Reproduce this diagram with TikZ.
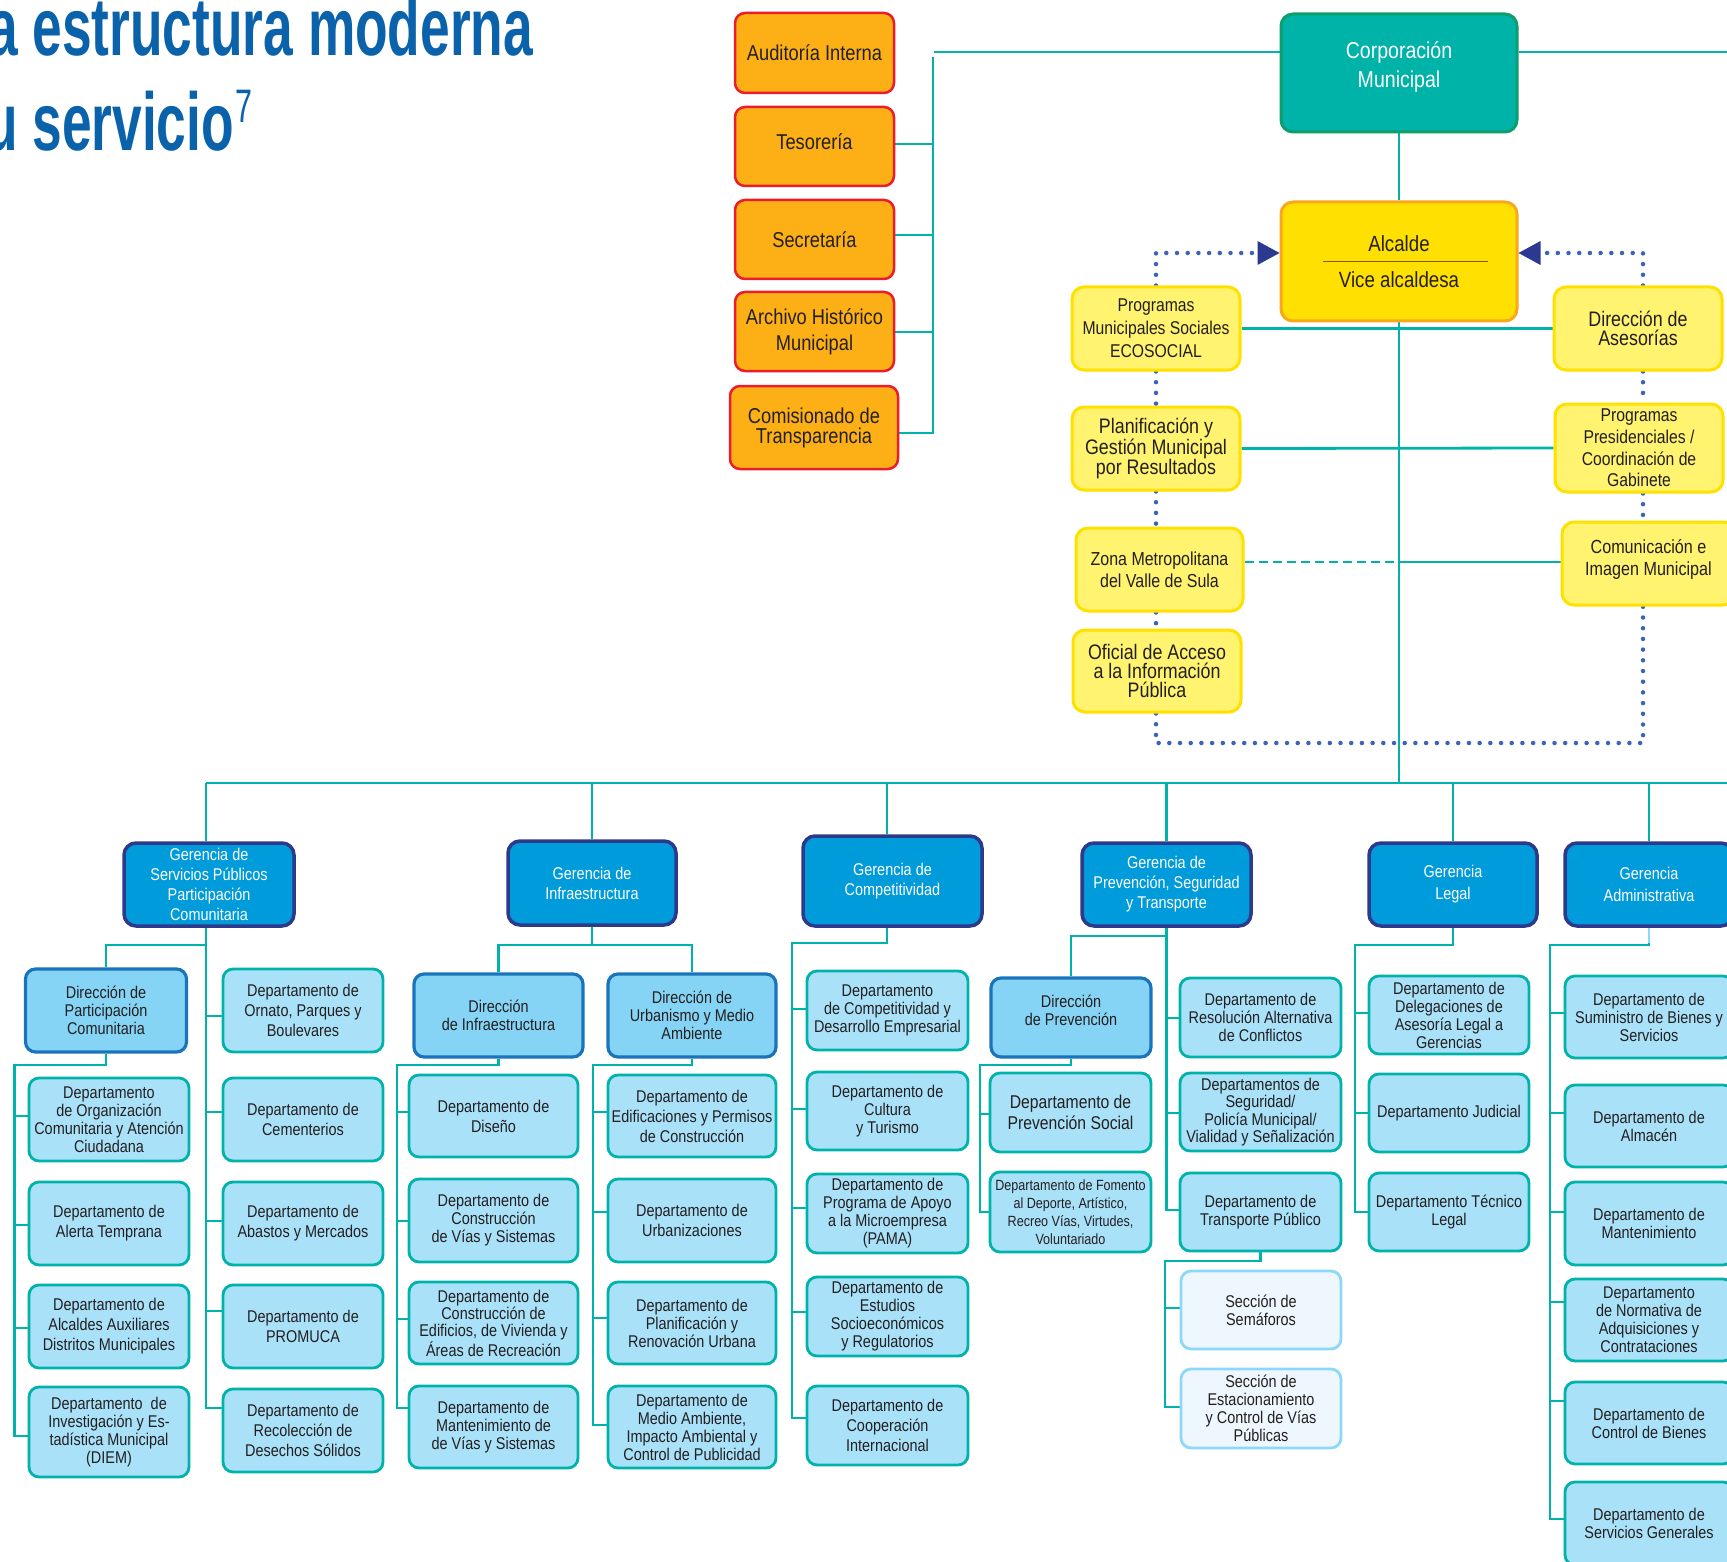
\documentclass[tikz,border=0pt]{standalone}
\usepackage{fontspec}
\setmainfont[FakeStretch=0.85]{Liberation Sans}
\newfontfamily\titlefont[FakeStretch=0.65]{Liberation Sans}
\usetikzlibrary{arrows.meta}
\definecolor{teal1}{HTML}{00B3AA}
\definecolor{deptfill}{HTML}{A9E1F9}
\definecolor{dirfill}{HTML}{86D4F5}
\definecolor{dirborder}{HTML}{1A74BB}
\definecolor{gerfill}{HTML}{009BDB}
\definecolor{gerborder}{HTML}{2D3A8C}
\definecolor{sectfill}{HTML}{EEF7FE}
\definecolor{sectborder}{HTML}{8DD8F8}
\definecolor{orfill}{HTML}{FDB016}
\definecolor{orborder}{HTML}{EC1C2D}
\definecolor{ylfill}{HTML}{FFF36F}
\definecolor{ylborder}{HTML}{FFE100}
\definecolor{alfill}{HTML}{FFE000}
\definecolor{alborder}{HTML}{F9A81B}
\definecolor{corpfill}{HTML}{00B3A9}
\definecolor{corpborder}{HTML}{0E9D6C}
\definecolor{dotblue}{HTML}{3A63BD}
\definecolor{navy}{HTML}{2B3A90}
\definecolor{titleblue}{HTML}{0A62AA}
\definecolor{txt}{HTML}{231F20}
\definecolor{rulecol}{HTML}{7A5E00}
\pgfdeclarelayer{bg}
\pgfsetlayers{bg,main}
\newcommand\brn[3]{\draw[conn] (#1 |- 0,#3) -- (#2.west |- 0,#3);}
\tikzset{
  bx/.style={rounded corners=10pt, align=center, inner sep=0pt, text=txt},
  wh/.style 2 args={minimum width=#1pt, minimum height=#2pt},
  dept/.style={bx, draw=teal1, fill=deptfill, line width=2.8pt, font=\fontsize{17}{20}\selectfont},
  tight/.style={font=\fontsize{17}{18}\selectfont},
  dirbox/.style={bx, draw=dirborder, fill=dirfill, line width=3.2pt, font=\fontsize{17}{18}\selectfont},
  sect/.style={bx, draw=sectborder, fill=sectfill, line width=2.8pt, font=\fontsize{17}{18}\selectfont},
  ger/.style={bx, rounded corners=12pt, draw=gerborder, fill=gerfill, line width=3.5pt, text=white, font=\fontsize{17}{20}\selectfont},
  orng/.style={bx, draw=orborder, fill=orfill, line width=2.5pt, font=\fontsize{21.5}{24}\selectfont},
  ylw/.style={bx, rounded corners=12pt, draw=ylborder, fill=ylfill, line width=3pt},
  conn/.style={draw=teal1, line width=2.8pt},
  dotln/.style={draw=dotblue, line width=4.5pt, line cap=round, dash pattern=on 0pt off 10.7pt},
}
\begin{document}
\begin{tikzpicture}[x=1pt,y=-1pt]
\path[use as bounding box] (0,0) rectangle (1727,1562);

% ---------- title ----------
\node[anchor=base west, inner sep=0pt, text=titleblue, font=\titlefont\bfseries\fontsize{82}{82}\selectfont] (t1) at (-12,56) {a estructura moderna};
\node[anchor=base west, inner sep=0pt, text=titleblue, font=\titlefont\bfseries\fontsize{82}{82}\selectfont] (t2) at (-15,151) {u servicio};
\node[anchor=base west, inner sep=0pt, text=titleblue, font=\titlefont\fontsize{47}{47}\selectfont] (t3) at (t2.base east) {\hspace{1pt}\raisebox{28pt}{7}};

% ---------- top ----------
\node[orng, wh={159}{80}] (aud) at (814.5,53) {Auditoría Interna};
\node[orng, wh={159}{79}] (tes) at (814.5,146.5) {\raisebox{5pt}[\height][\depth]{Tesorería}};
\node[orng, wh={159}{79}] (sec) at (814.5,239.5) {Secretaría};
\node[orng, wh={159}{79}] (arc) at (814.5,331.5) {Archivo Histórico\\[2pt]Municipal};
\node[orng, wh={168}{83}, font=\fontsize{21.5}{20}\selectfont] (com) at (814,427.5) {Comisionado de\\Transparencia};

\node[bx, rounded corners=12pt, draw=corpborder, fill=corpfill, line width=3pt, text=white, font=\fontsize{23}{29}\selectfont, wh={236}{118}] (corp) at (1399,73)
  {\raisebox{6pt}[\height][\depth]{\begin{tabular}{@{}c@{}}Corporación\\Municipal\end{tabular}}};
\node[bx, rounded corners=12pt, draw=alborder, fill=alfill, line width=3pt, font=\fontsize{22}{24}\selectfont, wh={236}{119}] (alc) at (1399,261.5) {Alcalde\\[12pt]Vice alcaldesa};
\draw[rulecol, line width=1.6pt] ([xshift=-76pt]alc.center) -- ([xshift=89pt]alc.center);

\node[ylw, wh={168}{83}, font=\fontsize{18.5}{23}\selectfont] (eco) at (1156,328.5) {Programas\\Municipales Sociales\\ECOSOCIAL};
\node[ylw, wh={168}{83}, font=\fontsize{21}{19.5}\selectfont] (plan) at (1156,448.5) {Planificación y\\Gestión Municipal\\por Resultados};
\node[ylw, wh={167}{83}, font=\fontsize{18.8}{22}\selectfont] (zona) at (1159.5,569.5) {Zona Metropolitana\\del Valle de Sula};
\node[ylw, wh={168}{82}, font=\fontsize{21}{19}\selectfont] (ofi) at (1157,671) {Oficial de Acceso\\a la Información\\Pública};
\node[ylw, wh={168}{83}, font=\fontsize{21}{19.5}\selectfont] (ase) at (1638,328.5) {Dirección de\\Asesorías};
\node[ylw, wh={168}{88}, font=\fontsize{18.5}{21.7}\selectfont] (pres) at (1639,448) {Programas\\Presidenciales /\\Coordinación de\\Gabinete};
\node[ylw, wh={173}{83}, font=\fontsize{19}{22}\selectfont] (comu) at (1648.5,563.5) {\raisebox{3pt}[\height][\depth]{\begin{tabular}{@{}c@{}}Comunicación e\\Imagen Municipal\end{tabular}}};

\coordinate (alL) at ([yshift=8.5pt]alc.west);
\coordinate (alR) at ([yshift=8.5pt]alc.east);
\fill[navy] (alL) -- ++(-22,-12) -- ++(0,24) -- cycle;
\fill[navy] (alR) -- ++(22,-12) -- ++(0,24) -- cycle;

% ---------- gerencias ----------
\node[ger, wh={170}{83}] (gsp) at (209,884.5) {Gerencia de\\Servicios Públicos\\Participación\\Comunitaria};
\node[ger, wh={168}{84}] (ginf) at (592,883) {Gerencia de\\Infraestructura};
\node[ger, wh={179}{90}] (gcom) at (892.5,881) {Gerencia de\\Competitividad};
\node[ger, wh={169}{83}] (gpre) at (1166.5,884.5) {Gerencia de\\Prevención, Seguridad\\y Transporte};
\node[ger, wh={168}{83}, font=\fontsize{17}{22}\selectfont] (gleg) at (1453,884.5) {Gerencia\\Legal};
\node[ger, wh={168}{83}, font=\fontsize{17}{22}\selectfont] (gadm) at (1649,884.5) {Gerencia\\Administrativa};

% ---------- Servicios Publicos ----------
\node[dirbox, wh={161}{83}] (dpc) at (106,1010.5) {Dirección de\\Participación\\Comunitaria};
\node[dept, tight, wh={160}{83}] (d1) at (109,1119.5) {Departamento\\de Organización\\Comunitaria y Atención\\Ciudadana};
\node[dept, wh={160}{83}] (d2) at (109,1223.5) {Departamento de\\Alerta Temprana};
\node[dept, wh={160}{83}] (d3) at (109,1326.5) {Departamento de\\Alcaldes Auxiliares\\Distritos Municipales};
\node[dept, tight, wh={160}{90}] (d4) at (109,1432) {Departamento\ \ de\\Investigación y Es-\\tadística Municipal\\(DIEM)};
\node[dept, wh={160}{83}] (r1) at (303,1010.5) {Departamento de\\Ornato, Parques y\\Boulevares};
\node[dept, wh={160}{83}] (r2) at (303,1119.5) {Departamento de\\Cementerios};
\node[dept, wh={160}{83}] (r3) at (303,1223.5) {Departamento de\\Abastos y Mercados};
\node[dept, wh={160}{83}] (r4) at (303,1326.5) {Departamento de\\PROMUCA};
\node[dept, wh={160}{83}] (r5) at (303,1430.5) {Departamento de\\Recolección de\\Desechos Sólidos};

% ---------- Infraestructura ----------
\node[dirbox, wh={169}{83}] (dinf) at (498.5,1015.5) {Dirección\\de Infraestructura};
\node[dirbox, wh={168}{83}] (durb) at (692,1015.5) {Dirección de\\Urbanismo y Medio\\Ambiente};
\node[dept, wh={169}{82}] (i1) at (493.5,1116) {Departamento de\\Diseño};
\node[dept, tight, wh={169}{83}] (i2) at (493.5,1220.5) {Departamento de\\Construcción\\de Vías y Sistemas};
\node[dept, wh={169}{82}, font=\fontsize{17}{17.3}\selectfont] (i3) at (493.5,1323) {Departamento de\\Construcción de\\Edificios, de Vivienda y\\Áreas de Recreación};
\node[dept, tight, wh={169}{82}] (i4) at (493.5,1427) {Departamento de\\Mantenimiento de\\de Vías y Sistemas};
\node[dept, wh={168}{82}] (u1) at (692,1116) {Departamento de\\Edificaciones y Permisos\\de Construcción};
\node[dept, wh={168}{83}] (u2) at (692,1220.5) {Departamento de\\Urbanizaciones};
\node[dept, tight, wh={168}{82}] (u3) at (692,1323) {Departamento de\\Planificación y\\Renovación Urbana};
\node[dept, tight, wh={168}{82}] (u4) at (692,1427) {Departamento de\\Medio Ambiente,\\Impacto Ambiental y\\Control de Publicidad};

% ---------- Competitividad ----------
\node[dept, tight, wh={161}{79}] (c1) at (887.5,1010.5) {Departamento\\de Competitividad y\\Desarrollo Empresarial};
\node[dept, tight, wh={161}{78}] (c2) at (887.5,1111) {Departamento de\\Cultura\\y Turismo};
\node[dept, tight, wh={161}{79}] (c3) at (887.5,1213.5) {Departamento de\\Programa de Apoyo\\a la Microempresa\\(PAMA)};
\node[dept, tight, wh={161}{79}] (c4) at (887.5,1316.5) {Departamento de\\Estudios\\Socioeconómicos\\y Regulatorios};
\node[dept, wh={161}{79}] (c5) at (887.5,1425.5) {Departamento de\\Cooperación\\Internacional};

% ---------- Prevencion ----------
\node[dirbox, wh={160}{79}] (dprev) at (1071,1017.5) {\raisebox{5pt}[\height][\depth]{\begin{tabular}{@{}c@{}}Dirección\\de Prevención\end{tabular}}};
\node[dept, wh={161}{79}, font=\fontsize{18.5}{21.5}\selectfont] (p1) at (1070.5,1112.5) {Departamento de\\Prevención Social};
\node[dept, wh={161}{80}, font=\fontsize{14.8}{18}\selectfont] (p2) at (1070.5,1212) {Departamento de Fomento\\al Deporte, Artístico,\\Recreo Vías, Virtudes,\\Voluntariado};
\node[dept, tight, wh={161}{79}] (q1) at (1260.5,1017.5) {Departamento de\\Resolución Alternativa\\de Conflictos};
\node[dept, wh={161}{78}, font=\fontsize{17}{17.3}\selectfont] (q2) at (1260.5,1112) {Departamentos de\\Seguridad/\\Policía Municipal/\\Vialidad y Señalización};
\node[dept, tight, wh={161}{78}] (q3) at (1260.5,1212) {Departamento de\\Transporte Público};
\node[sect, wh={160}{78}] (s1) at (1261,1310) {Sección de\\Semáforos};
\node[sect, wh={160}{79}] (s2) at (1261,1408.5) {Sección de\\Estacionamiento\\y Control de Vías\\Públicas};

% ---------- Legal ----------
\node[dept, tight, wh={160}{78}] (l1) at (1449,1015) {Departamento de\\Delegaciones de\\Asesoría Legal a\\Gerencias};
\node[dept, wh={160}{78}] (l2) at (1449,1113) {Departamento Judicial};
\node[dept, tight, wh={160}{78}] (l3) at (1449,1212) {Departamento Técnico\\Legal};

% ---------- Administrativa ----------
\node[dept, tight, wh={168}{82}] (a1) at (1649,1017) {Departamento de\\Suministro de Bienes y\\Servicios};
\node[dept, tight, wh={168}{82}] (a2) at (1649,1126) {Departamento de\\Almacén};
\node[dept, tight, wh={168}{83}] (a3) at (1649,1223.5) {Departamento de\\Mantenimiento};
\node[dept, tight, wh={168}{82}] (a4) at (1649,1320) {Departamento\\de Normativa de\\Adquisiciones y\\Contrataciones};
\node[dept, tight, wh={168}{82}] (a5) at (1649,1423) {Departamento de\\Control de Bienes};
\node[dept, tight, wh={168}{83}] (a6) at (1649,1523.5) {Departamento de\\Servicios Generales};

% ---------- connectors ----------
\begin{pgfonlayer}{bg}
\fill[white] (0,0) rectangle (1727,1562);
% orange column
\coordinate (otop) at (934,52);
\coordinate (otr) at (933,57);
\draw[conn] ([yshift=21pt]corp.west) -- (otop);
\draw[conn] ([yshift=21pt]corp.east) -- ++(260,0);
\draw[conn] (otr) -- (otr |- 0,433) -- (com.east |- 0,433);
\foreach \n/\y in {tes/144, sec/235, arc/332} \draw[conn] (otr |- 0,\y) -- (\n.east |- 0,\y);
% center spine
\coordinate (bus) at (1399,783);
\draw[conn] (corp.south) -- (alc.north);
\draw[conn] (alc.south) -- (bus);
\draw[conn] (eco.east) -- (ase.west);
\draw[conn] (plan.east) -- (pres.west);
\draw[conn, dash pattern=on 9pt off 5pt] (zona.east |- 0,562) -- (alc.south |- 0,562);
\draw[conn] (alc.south |- 0,562) -- (comu.west |- 0,562);
% dotted links
\coordinate (ld) at (1156,0);
\coordinate (rd) at (1643,0);
\draw[dotln] (ld |- eco.north) |- ([xshift=-22pt]alL);
\draw[dotln] (rd |- ase.north) |- ([xshift=22pt]alR);
\draw[dotln] (ld |- eco.south) -- (ld |- plan.north);
\draw[dotln] (ld |- plan.south) -- (ld |- zona.north);
\draw[dotln] (ld |- zona.south) -- (ld |- ofi.north);
\draw[dotln] (ld |- ofi.south) -- (ld |- 0,743) -- (rd |- 0,743) -- (rd |- comu.south);
\draw[dotln] (rd |- ase.south) -- (rd |- pres.north);
\draw[dotln] (rd |- pres.south) -- (rd |- comu.north);
% main bus
\coordinate (xsp) at (206,0);
\coordinate (xcm) at (887,0);
\draw[conn] (xsp |- bus) -- (1740,783);
\draw[conn] (xsp |- bus) -- (xsp |- gsp.north);
\draw[conn] (xcm |- bus) -- (xcm |- gcom.north);
\foreach \g in {ginf,gpre,gleg,gadm} \draw[conn] (\g.north |- bus) -- (\g.north);
% servicios publicos
\draw[conn] (xsp |- gsp.south) -- (xsp |- 0,1408) -- (r5.west |- 0,1408);
\draw[conn] (xsp |- 0,945) -| (dpc.north);
\brn{xsp}{r1}{1016}
\brn{xsp}{r2}{1112}
\brn{xsp}{r3}{1221}
\brn{xsp}{r4}{1311}
\coordinate (tdp) at (14.5,1065);
\draw[conn] (dpc.south) |- (tdp) -- (tdp |- 0,1436) -- (d4.west |- 0,1436);
\brn{tdp}{d1}{1116}
\brn{tdp}{d2}{1225}
\brn{tdp}{d3}{1328}
% infraestructura
\draw[conn] (ginf.south) -- (ginf.south |- 0,945);
\draw[conn] (dinf.north) -- (dinf.north |- 0,945) -- (durb.north |- 0,945) -- (durb.north);
\coordinate (tinf) at (397,1065);
\draw[conn] (dinf.south) |- (tinf) -- (tinf |- 0,1408) -- (i4.west |- 0,1408);
\brn{tinf}{i1}{1112}
\brn{tinf}{i2}{1221}
\brn{tinf}{i3}{1319}
\coordinate (turb) at (593,1065);
\draw[conn] (durb.south) |- (turb) -- (turb |- 0,1425) -- (u4.west |- 0,1425);
\brn{turb}{u1}{1112}
\brn{turb}{u2}{1212}
\brn{turb}{u3}{1318}
% competitividad
\coordinate (tcom) at (792,943);
\draw[conn] (xcm |- gcom.south) |- (tcom) -- (tcom |- 0,1418) -- (c5.west |- 0,1418);
\brn{tcom}{c1}{1009}
\brn{tcom}{c2}{1109}
\brn{tcom}{c3}{1208}
\brn{tcom}{c4}{1312}
% prevencion
\draw[conn] (gpre.south) -- (gpre.south |- 0,1210) -- (q3.west |- 0,1210);
\draw[conn] (gpre.south |- 0,936) -| (dprev.north);
\coordinate (tprev) at (980,1065);
\draw[conn] (dprev.south) |- (tprev) -- (tprev |- 0,1212) -- (p2.west |- 0,1212);
\brn{tprev}{p1}{1114}
\brn{gpre.south}{q1}{1018}
\brn{gpre.south}{q2}{1113}
\coordinate (ttr) at (1165,1261);
\draw[conn] (q3.south) |- (ttr) -- (ttr |- 0,1407) -- (s2.west |- 0,1407);
\brn{ttr}{s1}{1308}
% legal
\coordinate (tleg) at (1355,945);
\draw[conn] (gleg.south) |- (tleg) -- (tleg |- 0,1212) -- (l3.west |- 0,1212);
\brn{tleg}{l1}{1013}
\brn{tleg}{l2}{1113}
% administrativa
\coordinate (tadm) at (1550,945);
\draw[conn] (gadm.south) |- (tadm) -- (tadm |- 0,1519) -- (a6.west |- 0,1519);
\draw[conn, draw=sectborder] (gadm.south) -- (gadm.south |- 0,943);
\brn{tadm}{a1}{1013}
\brn{tadm}{a2}{1113}
\brn{tadm}{a3}{1212}
\brn{tadm}{a4}{1302}
\brn{tadm}{a5}{1401}
\end{pgfonlayer}
\end{tikzpicture}
\end{document}
